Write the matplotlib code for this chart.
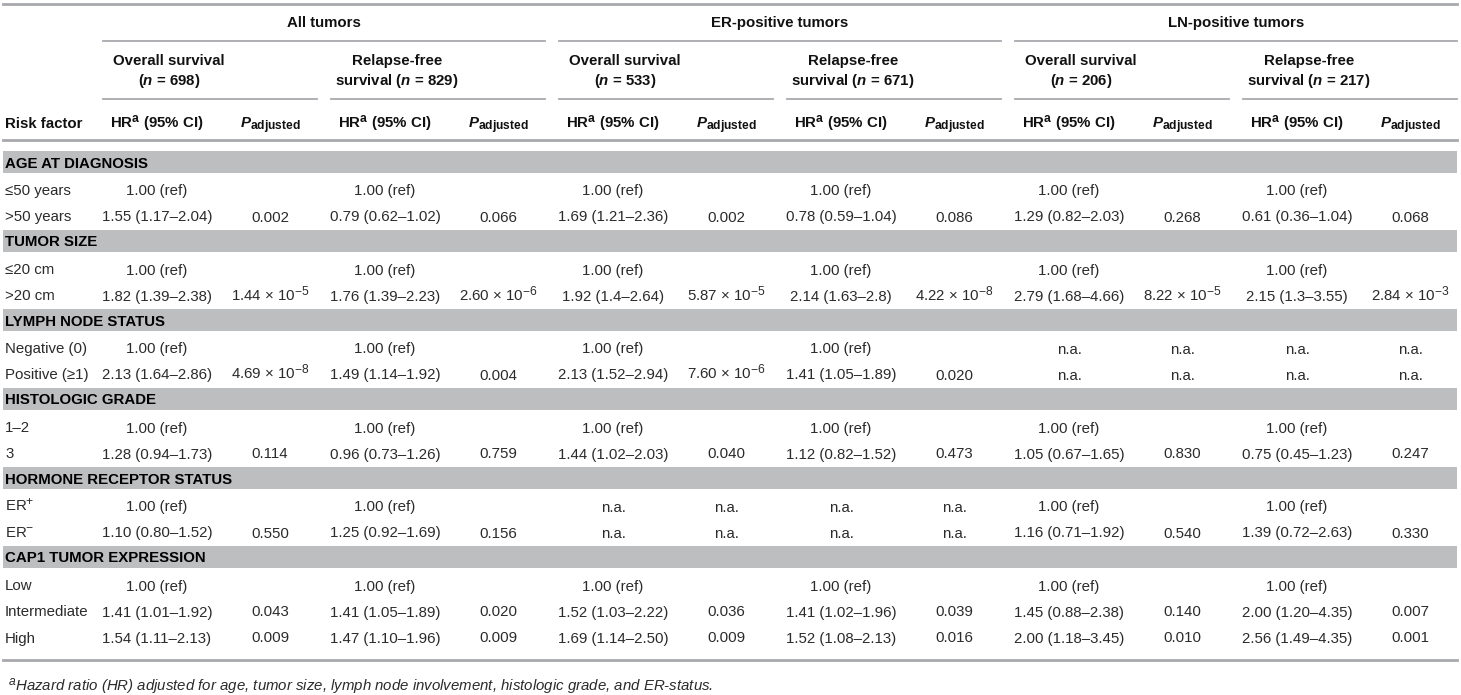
import numpy as np
import matplotlib
matplotlib.use("Agg")
import matplotlib.pyplot as plt
import matplotlib._mathtext as mtext
from matplotlib.patches import Rectangle

plt.rcParams['font.family'] = ['Liberation Sans', 'DejaVu Sans']
plt.rcParams['mathtext.fontset'] = 'custom'
plt.rcParams['mathtext.rm'] = 'Liberation Sans'
plt.rcParams['mathtext.it'] = 'Liberation Sans:italic'
plt.rcParams['mathtext.bf'] = 'Liberation Sans:bold'
plt.rcParams['mathtext.bfit'] = 'Liberation Sans:italic:bold'
# sub/superscripts in the original are larger than mathtext's default
mtext.SHRINK_FACTOR = 0.8

# table content
groups = ["All tumors", "ER-positive tumors", "LN-positive tumors"]
subgroups = ["Overall survival\n($\\mathbfit{n}$ = 698)", "Relapse-free\nsurvival ($\\mathbfit{n}$ = 829)",
             "Overall survival\n($\\mathbfit{n}$ = 533)", "Relapse-free\nsurvival ($\\mathbfit{n}$ = 671)",
             "Overall survival\n($\\mathbfit{n}$ = 206)", "Relapse-free\nsurvival ($\\mathbfit{n}$ = 217)"]
col_hr = "HR$^{\\mathbf{a}}$ (95% CI)"
col_p = "$\\mathbfit{P}_{\\mathbf{adjusted}}$"

sections = ["AGE AT DIAGNOSIS", "TUMOR SIZE", "LYMPH NODE STATUS", "HISTOLOGIC GRADE",
            "HORMONE RECEPTOR STATUS", "CAP1 TUMOR EXPRESSION"]
row_labels = [["≤50 years", ">50 years"], ["≤20 cm", ">20 cm"], ["Negative (0)", "Positive (≥1)"],
              ["1–2", "3"], ["ER$^{+}$", "ER$^{-}$"], ["Low", "Intermediate", "High"]]

all_os_hr = ["1.00 (ref)", "1.55 (1.17–2.04)", "1.00 (ref)", "1.82 (1.39–2.38)", "1.00 (ref)", "2.13 (1.64–2.86)",
             "1.00 (ref)", "1.28 (0.94–1.73)", "1.00 (ref)", "1.10 (0.80–1.52)", "1.00 (ref)", "1.41 (1.01–1.92)",
             "1.54 (1.11–2.13)"]
all_os_p = ["", "0.002", "", "1.44 × 10$^{-5}$", "", "4.69 × 10$^{-8}$", "", "0.114", "", "0.550", "", "0.043", "0.009"]
all_rfs_hr = ["1.00 (ref)", "0.79 (0.62–1.02)", "1.00 (ref)", "1.76 (1.39–2.23)", "1.00 (ref)", "1.49 (1.14–1.92)",
              "1.00 (ref)", "0.96 (0.73–1.26)", "1.00 (ref)", "1.25 (0.92–1.69)", "1.00 (ref)", "1.41 (1.05–1.89)",
              "1.47 (1.10–1.96)"]
all_rfs_p = ["", "0.066", "", "2.60 × 10$^{-6}$", "", "0.004", "", "0.759", "", "0.156", "", "0.020", "0.009"]
er_os_hr = ["1.00 (ref)", "1.69 (1.21–2.36)", "1.00 (ref)", "1.92 (1.4–2.64)", "1.00 (ref)", "2.13 (1.52–2.94)",
            "1.00 (ref)", "1.44 (1.02–2.03)", "n.a.", "n.a.", "1.00 (ref)", "1.52 (1.03–2.22)", "1.69 (1.14–2.50)"]
er_os_p = ["", "0.002", "", "5.87 × 10$^{-5}$", "", "7.60 × 10$^{-6}$", "", "0.040", "n.a.", "n.a.", "", "0.036", "0.009"]
er_rfs_hr = ["1.00 (ref)", "0.78 (0.59–1.04)", "1.00 (ref)", "2.14 (1.63–2.8)", "1.00 (ref)", "1.41 (1.05–1.89)",
             "1.00 (ref)", "1.12 (0.82–1.52)", "n.a.", "n.a.", "1.00 (ref)", "1.41 (1.02–1.96)", "1.52 (1.08–2.13)"]
er_rfs_p = ["", "0.086", "", "4.22 × 10$^{-8}$", "", "0.020", "", "0.473", "n.a.", "n.a.", "", "0.039", "0.016"]
ln_os_hr = ["1.00 (ref)", "1.29 (0.82–2.03)", "1.00 (ref)", "2.79 (1.68–4.66)", "n.a.", "n.a.",
            "1.00 (ref)", "1.05 (0.67–1.65)", "1.00 (ref)", "1.16 (0.71–1.92)", "1.00 (ref)", "1.45 (0.88–2.38)",
            "2.00 (1.18–3.45)"]
ln_os_p = ["", "0.268", "", "8.22 × 10$^{-5}$", "n.a.", "n.a.", "", "0.830", "", "0.540", "", "0.140", "0.010"]
ln_rfs_hr = ["1.00 (ref)", "0.61 (0.36–1.04)", "1.00 (ref)", "2.15 (1.3–3.55)", "n.a.", "n.a.",
             "1.00 (ref)", "0.75 (0.45–1.23)", "1.00 (ref)", "1.39 (0.72–2.63)", "1.00 (ref)", "2.00 (1.20–4.35)",
             "2.56 (1.49–4.35)"]
ln_rfs_p = ["", "0.068", "", "2.84 × 10$^{-3}$", "n.a.", "n.a.", "", "0.247", "", "0.330", "", "0.007", "0.001"]

hr_cols = [all_os_hr, all_rfs_hr, er_os_hr, er_rfs_hr, ln_os_hr, ln_rfs_hr]
p_cols = [all_os_p, all_rfs_p, er_os_p, er_rfs_p, ln_os_p, ln_rfs_p]

footnote = "$^{\\mathit{a}}$Hazard ratio (HR) adjusted for age, tumor size, lymph node involvement, histologic grade, and ER-status."

# layout (pixels)
W, H = 1461, 695
left, right = 3, 1457
sub_x0 = 103 + np.arange(6) * 228
sub_w = 214
grp_x0 = sub_x0[::2]
grp_w = 442
hr_off, p_off, head_off = 54, 167, 66
line_col = "#a7a9ac"
band_col = "#bcbec0"
txt_col = "#2b2b2b"
fs = 10.8

fig = plt.figure(figsize=(W / 100, H / 100), dpi=100)
ax = fig.add_axes([0, 0, 1, 1])
ax.set_xlim(0, W)
ax.set_ylim(H, 0)
ax.axis("off")

# header
ax.plot([left, right], [4, 4], color=line_col, lw=2)
for g, x0 in zip(groups, grp_x0):
    ax.text(x0 + grp_w / 2, 23, g, ha="center", va="center", fontsize=fs, fontweight="bold", color="#111111")
    ax.plot([x0, x0 + grp_w], [41, 41], color=line_col, lw=1.3)
for s, x0 in zip(subgroups, sub_x0):
    ax.text(x0 + head_off, 72, s, ha="center", va="center", fontsize=fs, fontweight="bold",
            color="#111111", multialignment="center", linespacing=1.35)
    ax.plot([x0, x0 + sub_w], [99, 99], color=line_col, lw=1.3)
ax.text(5, 128, "Risk factor", ha="left", va="baseline", fontsize=fs, fontweight="bold", color="#111111")
for x0 in sub_x0:
    ax.text(x0 + hr_off, 128, col_hr, ha="center", va="baseline", fontsize=fs, fontweight="bold", color="#111111")
    ax.text(x0 + p_off, 128, col_p, ha="center", va="baseline", fontsize=fs, fontweight="bold", color="#111111")
ax.plot([left, right], [140, 140], color=line_col, lw=2)

# body
y = 162
r = 0
for sec, labels in zip(sections, row_labels):
    ax.add_patch(Rectangle((left, y - 11), right - left, 22, color=band_col, lw=0))
    ax.text(5, y + 5.5, sec, ha="left", va="baseline", fontsize=fs, fontweight="bold", color="black")
    y += 28
    for lab in labels:
        ax.text(5, y + 5.5, lab, ha="left", va="baseline", fontsize=fs, color=txt_col)
        for x0, hrc, pc in zip(sub_x0, hr_cols, p_cols):
            ax.text(x0 + hr_off, y + 5.5, hrc[r], ha="center", va="baseline", fontsize=fs, color=txt_col)
            ax.text(x0 + p_off, y + 5.5, pc[r], ha="center", va="baseline", fontsize=fs, color=txt_col)
        r += 1
        y += 26
    y -= 1

ax.plot([left, right], [660, 660], color=line_col, lw=2)
ax.text(8, 687, footnote, ha="left", va="center", fontsize=fs, style="italic", color=txt_col)

fig.savefig("out.png", dpi=100, facecolor="white")
